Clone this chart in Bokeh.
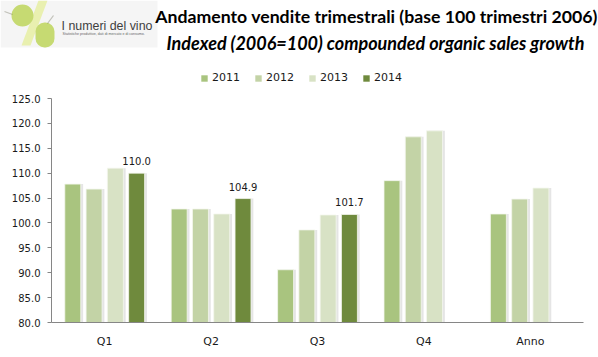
from bokeh.plotting import figure
from bokeh.layouts import column
from bokeh.models import (FactorRange, Range1d, Label, LabelSet, ColumnDataSource,
                          Legend, LegendItem, BoxAnnotation, PolyAnnotation,
                          FixedTicker, NumeralTickFormatter)
from bokeh.transform import dodge
from bokeh.core.properties import value
from bokeh.embed import file_html
from bokeh.resources import INLINE

# ---------------- data ----------------
categories = ["Q1", "Q2", "Q3", "Q4", "Anno"]
years = ["2011", "2012", "2013", "2014"]
v2011 = [107.8, 102.8, 90.6, 108.5, 101.8]
v2012 = [106.8, 102.8, 98.6, 117.3, 104.8]
v2013 = [111.0, 101.8, 101.6, 118.5, 107.0]
cats2014 = ["Q1", "Q2", "Q3"]
v2014 = [110.0, 104.9, 101.7]
y_ticks = [80, 85, 90, 95, 100, 105, 110, 115, 120, 125]

colors = ["#A9C47F", "#C3D3A6", "#D8E2C5", "#6F8A3D"]
title1 = "Andamento vendite trimestrali (base 100 trimestri 2006)"
title2 = "Indexed (2006=100) compounded organic sales growth"

W = 598
TOP_H = 88
MAIN_H = 357 - TOP_H
BL, BR, BT, BB = 51, 15, 10, 35
y0, y1 = y_ticks[0], y_ticks[-1]

# ---------------- main chart ----------------
p = figure(width=W, height=MAIN_H, x_range=FactorRange(*categories, range_padding=0),
           y_range=Range1d(y0, y1), output_backend="svg", toolbar_location=None,
           min_border_left=BL, min_border_right=BR, min_border_top=BT,
           min_border_bottom=BB)
p.frame_align = False
p.outline_line_color = None
p.xgrid.grid_line_color = None
p.ygrid.grid_line_color = None

offsets = [-0.3, -0.1, 0.1, 0.3]
bw = 0.15
series = [(categories, v2011), (categories, v2012), (categories, v2013), (cats2014, v2014)]
sources = []
for (cats, vals), off, col in zip(series, offsets, colors):
    src = ColumnDataSource(dict(cat=cats, val=vals, txt=["%.1f" % v for v in vals]))
    p.vbar(x=dodge("cat", off + 0.022, range=p.x_range), top="val", bottom=y0,
           width=bw, source=src, fill_color="#cfcfcf", fill_alpha=0.55, line_color=None)
    p.vbar(x=dodge("cat", off, range=p.x_range), top="val", bottom=y0,
           width=bw, source=src, fill_color=col, line_color="#f4f6ee", line_width=0.8)
    sources.append(src)

labels = LabelSet(x=dodge("cat", offsets[3], range=p.x_range), y="val", text="txt",
                  source=sources[3], y_offset=8, text_align="center", text_baseline="alphabetic",
                  text_font=value("DejaVu Sans"), text_font_size="10px", text_color="#1a1a1a")
p.add_layout(labels)

p.yaxis.ticker = FixedTicker(ticks=y_ticks)
p.yaxis.formatter = NumeralTickFormatter(format="0.0")
p.yaxis.axis_line_color = "#868686"
p.yaxis.major_tick_line_color = "#868686"
p.yaxis.major_tick_in = 0
p.yaxis.major_tick_out = 4
p.yaxis.minor_tick_line_color = None
p.yaxis.major_label_standoff = 7
p.yaxis.major_label_text_font = "DejaVu Sans"
p.yaxis.major_label_text_font_size = "10px"
p.yaxis.major_label_text_color = "#1a1a1a"

p.xaxis.axis_line_color = "#868686"
p.xaxis.major_tick_line_color = None
p.xaxis.minor_tick_line_color = None
p.xaxis.major_tick_out = 0
p.xaxis.major_label_standoff = 12
p.xaxis.major_label_text_font = "DejaVu Sans"
p.xaxis.major_label_text_font_size = "11px"
p.xaxis.major_label_text_color = "#1a1a1a"

# ---------------- header (logo, titles, legend) ----------------
top = figure(width=W, height=TOP_H, x_range=Range1d(0, W), y_range=Range1d(TOP_H, 0),
             x_axis_type=None, y_axis_type=None, output_backend="svg", toolbar_location=None,
             min_border=0)
top.frame_align = False
top.outline_line_color = None
top.xgrid.grid_line_color = None
top.ygrid.grid_line_color = None

# logo
top.add_layout(BoxAnnotation(left=0, right=157, top=0, bottom=47,
                             fill_color="#f5f5f5", fill_alpha=1, line_color=None, level="underlay"))
top.add_layout(PolyAnnotation(xs=[38, 47, 30, 21], ys=[0, 0, 45, 45],
                              fill_color="#e9f0b0", fill_alpha=1, line_color=None))
top.add_layout(BoxAnnotation(left=11, right=33, top=4, bottom=26, border_radius=11,
                             fill_color="#c6da72", fill_alpha=1, line_color=None))
top.add_layout(BoxAnnotation(left=35, right=54, top=22, bottom=47, border_radius=9,
                             fill_color="#c6da72", fill_alpha=1, line_color=None))
top.add_layout(PolyAnnotation(xs=[4, 12], ys=[11, 14], fill_alpha=0,
                              line_color="#4a4a30", line_width=1.2))
top.add_layout(PolyAnnotation(xs=[47, 53], ys=[23, 15], fill_alpha=0,
                              line_color="#4a4a30", line_width=1.2))
top.add_layout(Label(x=61, y=25, text="I numeri del vino", text_align="left",
                     text_baseline="alphabetic", text_font="Liberation Sans",
                     text_font_size="12.4px", text_color="#3f3f3f"))
top.add_layout(Label(x=62, y=33, text="Statistiche produttive, dati di mercato e di consumo.",
                     text_align="left", text_baseline="middle", text_font="Liberation Sans",
                     text_font_size="3.6px", text_color="#666666"))

# titles
top.add_layout(Label(x=376, y=16, text=title1, text_align="center", text_baseline="middle",
                     text_font="Lato", text_font_style="bold", text_font_size="17.7px",
                     text_color="black"))
top.add_layout(Label(x=375, y=42, text=title2, text_align="center", text_baseline="middle",
                     text_font="Lato", text_font_style="bold italic", text_font_size="18px",
                     text_color="black"))

# legend: hidden renderers carry the series colours for the swatches
legend_items = []
for yr, col, src in zip(years, colors, sources):
    r = top.vbar(x="val", top="val", width=1, source=src, fill_color=col,
                 line_color=None, visible=False)
    legend_items.append(LegendItem(label=yr, renderers=[r]))
legend = Legend(items=legend_items, orientation="horizontal", location=(200, TOP_H - 84),
                glyph_width=8, glyph_height=8, label_height=8, label_standoff=4, spacing=14,
                padding=0, margin=0, border_line_color=None, background_fill_alpha=0,
                label_text_font="DejaVu Sans", label_text_font_size="11px",
                label_text_color="#1a1a1a")
top.add_layout(legend, "center")

layout = column(top, p, spacing=0)
open("out.html", "w").write(file_html(layout, INLINE))
